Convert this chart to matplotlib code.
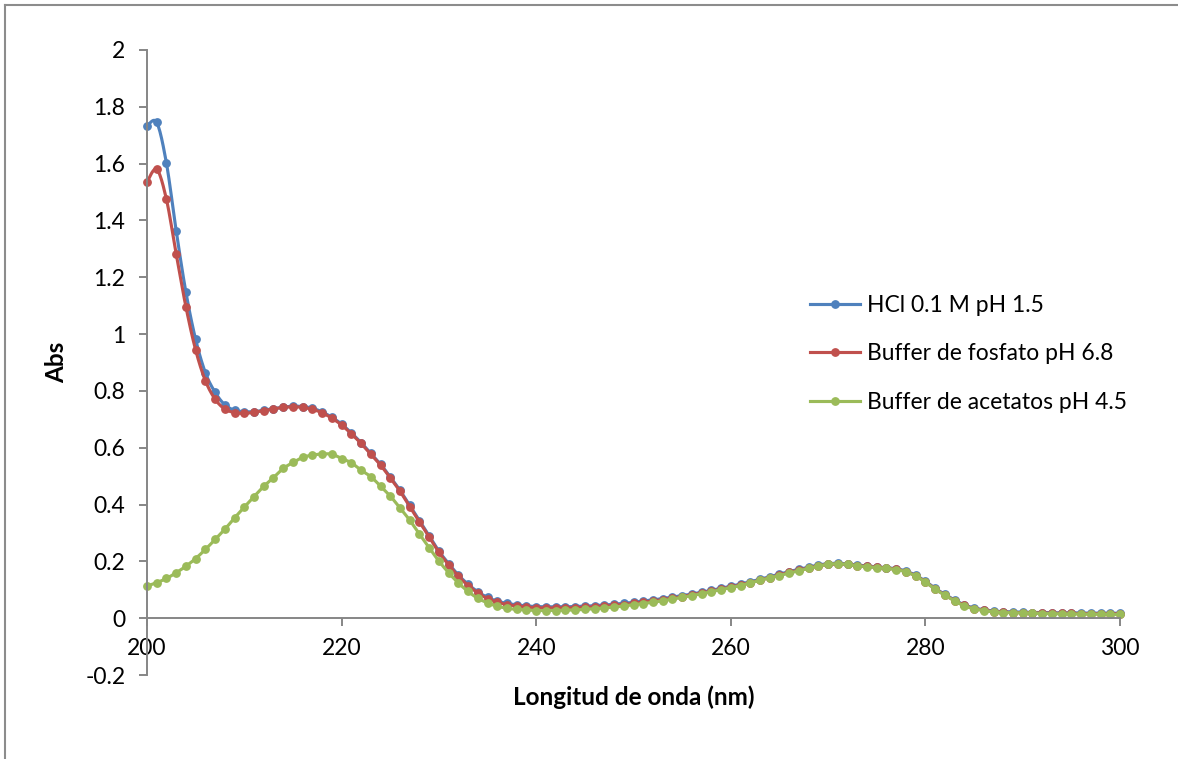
import numpy as np
import matplotlib
matplotlib.use('Agg')
import matplotlib.pyplot as plt
from matplotlib.lines import Line2D

plt.rcParams['font.family'] = ['Lato', 'DejaVu Sans']

# wavelengths (nm)
wl = list(range(200, 301))

hcl = [1.732, 1.745, 1.601, 1.364, 1.147, 0.981, 0.864, 0.795, 0.751, 0.732,
       0.727, 0.727, 0.732, 0.738, 0.743, 0.746, 0.745, 0.739, 0.726, 0.707,
       0.683, 0.652, 0.618, 0.580, 0.542, 0.497, 0.450, 0.397, 0.343, 0.290,
       0.236, 0.192, 0.152, 0.119, 0.093, 0.073, 0.060, 0.052, 0.047, 0.043,
       0.041, 0.040, 0.040, 0.040, 0.041, 0.042, 0.044, 0.046, 0.049, 0.052,
       0.056, 0.060, 0.064, 0.069, 0.074, 0.079, 0.085, 0.091, 0.098, 0.105,
       0.112, 0.120, 0.128, 0.137, 0.146, 0.155, 0.164, 0.172, 0.180, 0.187,
       0.192, 0.193, 0.191, 0.187, 0.184, 0.181, 0.178, 0.174, 0.166, 0.151,
       0.130, 0.105, 0.084, 0.064, 0.047, 0.036, 0.030, 0.025, 0.023, 0.022,
       0.021, 0.020, 0.020, 0.019, 0.019, 0.019, 0.018, 0.018, 0.018, 0.018,
       0.017]

fosfato = [1.535, 1.580, 1.474, 1.282, 1.096, 0.944, 0.836, 0.771, 0.736, 0.724,
           0.721, 0.725, 0.731, 0.737, 0.742, 0.744, 0.742, 0.735, 0.723, 0.704,
           0.680, 0.649, 0.615, 0.577, 0.539, 0.494, 0.447, 0.393, 0.339, 0.286,
           0.232, 0.188, 0.148, 0.115, 0.089, 0.069, 0.056, 0.048, 0.043, 0.039,
           0.037, 0.036, 0.036, 0.036, 0.037, 0.038, 0.040, 0.042, 0.045, 0.048,
           0.052, 0.056, 0.060, 0.065, 0.070, 0.076, 0.082, 0.088, 0.095, 0.102,
           0.109, 0.117, 0.125, 0.134, 0.143, 0.152, 0.161, 0.169, 0.177, 0.184,
           0.189, 0.190, 0.189, 0.185, 0.182, 0.179, 0.176, 0.172, 0.164, 0.149,
           0.128, 0.103, 0.082, 0.062, 0.045, 0.034, 0.028, 0.023, 0.021, 0.020,
           0.019, 0.018, 0.018, 0.017, 0.017, 0.017, 0.016, 0.016, 0.016, 0.016,
           0.015]

acetatos = [0.113, 0.125, 0.140, 0.160, 0.183, 0.210, 0.242, 0.277, 0.313, 0.353,
            0.391, 0.428, 0.464, 0.495, 0.527, 0.548, 0.566, 0.574, 0.578, 0.577,
            0.562, 0.547, 0.521, 0.498, 0.465, 0.430, 0.388, 0.345, 0.296, 0.248,
            0.201, 0.160, 0.124, 0.094, 0.070, 0.054, 0.042, 0.035, 0.031, 0.029,
            0.027, 0.027, 0.027, 0.028, 0.029, 0.031, 0.033, 0.036, 0.039, 0.043,
            0.047, 0.051, 0.056, 0.061, 0.067, 0.073, 0.079, 0.086, 0.093, 0.100,
            0.107, 0.115, 0.124, 0.133, 0.142, 0.150, 0.159, 0.167, 0.175, 0.183,
            0.190, 0.191, 0.189, 0.184, 0.181, 0.178, 0.175, 0.171, 0.163, 0.148,
            0.127, 0.102, 0.081, 0.061, 0.043, 0.033, 0.027, 0.022, 0.020, 0.019,
            0.018, 0.017, 0.016, 0.016, 0.015, 0.015, 0.014, 0.014, 0.014, 0.013,
            0.013]

series = [
    ('HCl 0.1 M pH 1.5', hcl, '#4F81BD'),
    ('Buffer de fosfato pH 6.8', fosfato, '#C0504D'),
    ('Buffer de acetatos pH 4.5', acetatos, '#9BBB59'),
]


# Excel-style smoothed line (cubic bezier, tension 1/6)
def smooth(x, y, n=12):
    x = np.asarray(x, float)
    y = np.asarray(y, float)
    px = np.concatenate([[x[0]], x, [x[-1]]])
    py = np.concatenate([[y[0]], y, [y[-1]]])
    t = np.linspace(0, 1, n, endpoint=False)[:, None]
    xs, ys = [], []
    for i in range(len(x) - 1):
        p0 = np.array([px[i + 1], py[i + 1]])
        p3 = np.array([px[i + 2], py[i + 2]])
        p1 = p0 + (p3 - np.array([px[i], py[i]])) / 6
        p2 = p3 - (np.array([px[i + 3], py[i + 3]]) - p0) / 6
        b = ((1 - t) ** 3) * p0 + 3 * ((1 - t) ** 2) * t * p1 + 3 * (1 - t) * t ** 2 * p2 + t ** 3 * p3
        xs.append(b[:, 0])
        ys.append(b[:, 1])
    xs.append([x[-1]])
    ys.append([y[-1]])
    return np.concatenate(xs), np.concatenate(ys)


fig = plt.figure(figsize=(11.78, 7.59), dpi=100)
ax = fig.add_axes([147 / 1178, 1 - 675 / 759, 973 / 1178, 625 / 759])

handles = []
for label, vals, color in series:
    sx, sy = smooth(wl, vals)
    ax.plot(sx, sy, color=color, lw=2.25, solid_capstyle='round', clip_on=False)
    ax.plot(wl, vals, 'o', color=color, ms=5.3, mec=color, clip_on=False)
    handles.append(Line2D([], [], color=color, lw=2.25, marker='o', ms=5.3, label=label))

ax.set_xlim(200, 300)
ax.set_ylim(-0.2, 2)
ax.set_xticks(range(200, 301, 20))
ax.set_yticks(np.arange(-0.2, 2.01, 0.2))
ax.set_yticklabels(['-0.2', '0', '0.2', '0.4', '0.6', '0.8', '1', '1.2', '1.4', '1.6', '1.8', '2'])

gray = '#868686'
ax.spines['top'].set_visible(False)
ax.spines['right'].set_visible(False)
ax.spines['bottom'].set_position(('data', 0))
for s in ['left', 'bottom']:
    ax.spines[s].set_color(gray)
    ax.spines[s].set_linewidth(1.4)
ax.tick_params(axis='both', direction='out', length=5.5, width=1.4, color=gray,
               labelsize=16.5, labelcolor='black')
ax.tick_params(axis='x', pad=9)
ax.tick_params(axis='y', pad=10)

ax.set_xlabel('Longitud de onda (nm)', fontsize=17.5, fontweight='bold')
ax.xaxis.set_label_coords(0.5, -0.035)
ax.xaxis.label.set_va('center')
ax.set_ylabel('Abs', fontsize=17.5, fontweight='bold')
ax.yaxis.set_label_coords(-0.093, 0.5)
ax.yaxis.label.set_va('center')

ax.legend(handles=handles, loc='center left', bbox_to_anchor=(810 / 1178, 1 - 354 / 759),
          bbox_transform=fig.transFigure, frameon=False, fontsize=16.5,
          handlelength=2.2, handletextpad=0.3, labelspacing=1.18,
          borderpad=0, borderaxespad=0)

# chart border (top and left edges visible)
fig.add_artist(Line2D([5 / 1178, 5 / 1178], [0, 1 - 5 / 759], color='#8c8c8c', lw=1.5,
                      transform=fig.transFigure))
fig.add_artist(Line2D([5 / 1178, 1], [1 - 5 / 759, 1 - 5 / 759], color='#8c8c8c', lw=1.5,
                      transform=fig.transFigure))

fig.savefig('out.png', dpi=100)
